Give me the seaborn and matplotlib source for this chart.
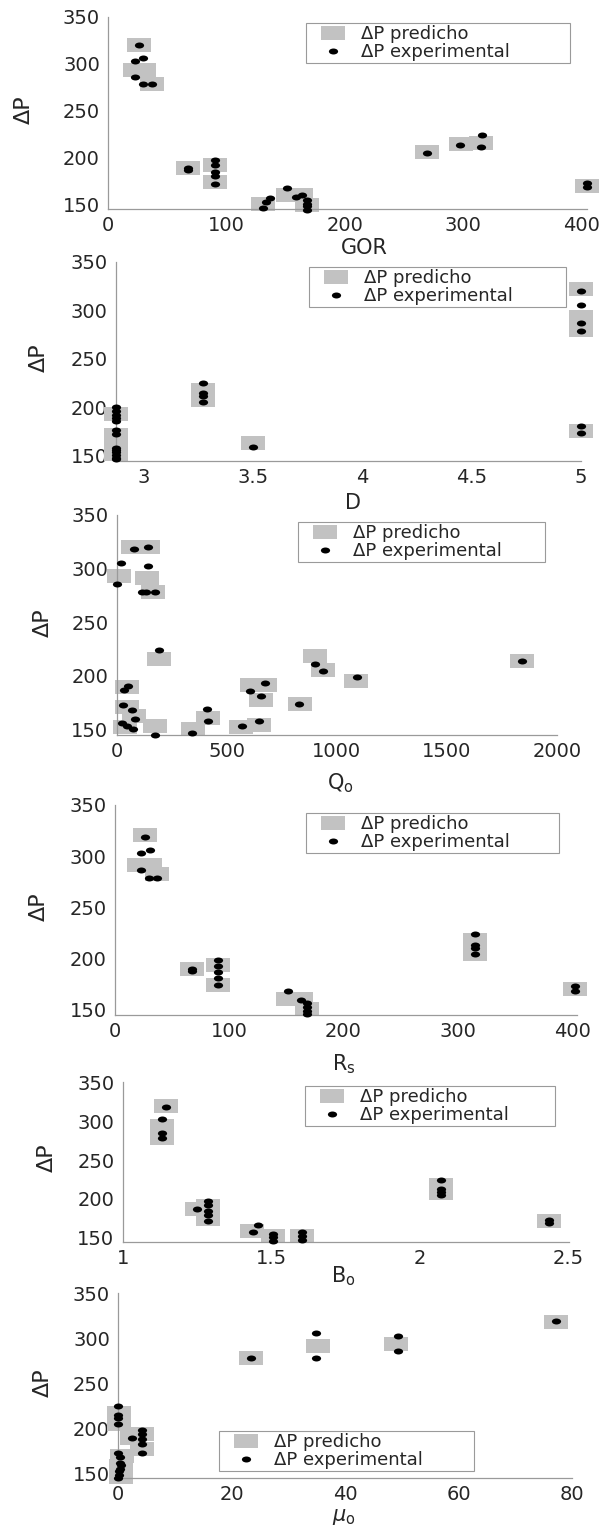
import matplotlib
matplotlib.use("Agg")
import matplotlib.pyplot as plt
from matplotlib.path import Path
from matplotlib.transforms import Affine2D
from matplotlib.ticker import FormatStrFormatter
import seaborn as sns

# ---- data (x variable, delta P) ----
gor_pred_x = [26, 22.5, 30, 37, 67, 90, 90, 131, 152, 163, 168, 269, 298, 315, 405]
gor_pred_y = [320, 293, 293, 278, 189, 192, 174, 151, 160, 160, 150, 206, 214, 216, 170]
gor_exp_x = [26, 22.5, 29.6, 22.5, 29.6, 37, 67, 67, 90, 90, 90, 90, 90, 131, 133, 137,
             151, 158.5, 163.5, 168, 168, 168, 168, 269, 297, 316, 315, 405, 405]
gor_exp_y = [320, 303, 306, 286, 278, 278, 189, 187, 198, 192, 185, 180, 172, 146, 153, 157,
             168, 158, 160, 155, 151, 148, 144.5, 205, 213.5, 224, 211, 172.5, 169]

d_pred_x = [2.873, 2.873, 2.873, 2.873, 3.27, 3.27, 3.5, 5, 5, 5, 5]
d_pred_y = [193, 171, 159, 152, 218, 208, 163, 322, 293, 280, 176]
d_exp_x = [2.873, 2.873, 2.873, 2.873, 2.873, 2.873, 2.873, 2.873, 2.873, 2.873, 2.873, 2.873, 2.873,
           3.27, 3.27, 3.27, 3.27, 3.5, 5, 5, 5, 5, 5, 5]
d_exp_y = [200, 196, 192, 188.5, 185.5, 177, 173, 158.5, 156, 153.5, 150.5, 148, 146.5,
           225, 214.5, 212, 205, 159.5, 320, 305.5, 287, 279, 181, 174]

qo_pred_x = [11, 75, 143, 138, 165, 192, 45, 45, 80, 37.6, 173, 346, 413, 564, 613, 674,
             657, 645, 831, 901, 936, 1087, 1841]
qo_pred_y = [293, 320, 320, 291, 278, 216, 190, 171, 163, 152, 153, 150.5, 161, 152, 192, 192,
             178, 154, 174, 219, 206, 195, 214]
qo_exp_x = [19.5, 3, 78, 143, 143, 116, 131, 173, 192, 34.6, 49.6, 30, 67.7, 82.7, 22.6, 45,
            75, 176, 341, 410.5, 416.5, 568, 604.5, 674, 657, 648, 827, 901, 936, 1092, 1841]
qo_exp_y = [305, 286, 318, 320, 302.6, 278, 278, 278.4, 224, 187.3, 190.4, 173, 168.3, 159.8, 156, 153.7,
            150.6, 145.4, 147, 169, 157.6, 153.7, 185.8, 193, 181, 158, 174, 211, 205, 199, 214]

rs_pred_x = [26, 21, 31, 37, 67.7, 90.4, 90.4, 151, 163, 168, 315, 315, 403]
rs_pred_y = [320.7, 291.4, 291.4, 283, 189.7, 193.7, 174, 161, 161, 151, 218, 205, 170]
rs_exp_x = [26, 22.7, 30.5, 22.7, 29.4, 37, 67.7, 67.7, 90.4, 90.4, 90.4, 90.4, 90.4,
            151, 162.4, 168, 168, 168, 168, 315, 315, 315, 315, 403, 403]
rs_exp_y = [319, 303, 305.6, 286.5, 278.7, 278.7, 189.7, 188, 198.5, 192.7, 187, 181.6, 174.1,
            168.2, 159.4, 156.8, 152.9, 149, 145.5, 223.6, 213.2, 210.6, 205, 173, 168.6]

bo_pred_x = [1.145, 1.131, 1.131, 1.249, 1.288, 1.288, 1.434, 1.507, 1.604, 2.07, 2.07, 2.436]
bo_pred_y = [319.6, 294, 278, 187, 191.3, 173.9, 159.4, 152, 152, 218.5, 207, 171]
bo_exp_x = [1.145, 1.131, 1.131, 1.131, 1.251, 1.288, 1.288, 1.288, 1.288, 1.288, 1.437, 1.455,
            1.507, 1.507, 1.507, 1.604, 1.604, 1.604, 2.07, 2.07, 2.07, 2.07, 2.436, 2.436]
bo_exp_y = [318.7, 303.4, 285, 277.8, 187, 197.7, 191.8, 185, 179.8, 172.2, 157.2, 167,
            155, 150.9, 145.7, 157.3, 152.1, 146.6, 224.4, 212.8, 209.4, 205.1, 173.5, 169.2]

mu_pred_x = [0.1, 0.1, 2.4, 4.1, 4.1, 0.6, 0.5, 0.5, 23.3, 35.2, 49, 77.2]
mu_pred_y = [217.7, 204.9, 189.8, 194, 177.4, 170, 158.6, 146.2, 277.8, 291.5, 293.7, 318.5]
mu_exp_x = [0, 0, 0, 0, 2.35, 4.1, 4.1, 4.1, 4.1, 4.1, 0, 0.3, 0.3, 0.5, 0.3, 0.2, 0.2, 0,
            77.2, 34.8, 34.8, 49.3, 49.3, 23.3]
mu_exp_y = [225.2, 215, 211.3, 204.9, 189.5, 198.9, 193.6, 188, 183, 173, 172.6, 168.8, 162.4,
            159.8, 155.6, 153, 148.5, 145.5, 319.6, 305.6, 277.8, 303, 286, 278.5]

xlabels = ["GOR", "D", r"Q$_\mathregular{o}$", r"R$_\mathregular{s}$", r"B$_\mathregular{o}$",
           r"$\mathit{\mu}_\mathregular{o}$"]
xlims = [(0, 405), (2.873, 5), (0, 2000), (0, 404), (1, 2.5), (0, 80)]
xticks = [[0, 100, 200, 300, 400], [3, 3.5, 4, 4.5, 5], [0, 500, 1000, 1500, 2000],
          [0, 100, 200, 300, 400], [1, 1.5, 2, 2.5], [0, 20, 40, 60, 80]]
yticks = [150, 200, 250, 300, 350]

data = [(gor_pred_x, gor_pred_y, gor_exp_x, gor_exp_y),
        (d_pred_x, d_pred_y, d_exp_x, d_exp_y),
        (qo_pred_x, qo_pred_y, qo_exp_x, qo_exp_y),
        (rs_pred_x, rs_pred_y, rs_exp_x, rs_exp_y),
        (bo_pred_x, bo_pred_y, bo_exp_x, bo_exp_y),
        (mu_pred_x, mu_pred_y, mu_exp_x, mu_exp_y)]

# ---- layout (pixels in the 605x1529 image) ----
W, H = 605, 1529
axes_px = [(108.3, 16.7, 587.4, 209.3), (116, 261.7, 581, 460.7), (116.7, 515, 557, 735),
           (115, 805, 576.6, 1015), (122.7, 1082.3, 568.5, 1241.7), (118.3, 1293.3, 572.3, 1478.3)]
legend_px = [(306, 22.7, 264), (309, 266.7, 257), (298, 521.7, 247),
             (306, 813, 253), (305, 1086, 250), (219, 1431, 255)]
xlabel_pos = [(0.535, -0.15), (0.51, -0.16), (0.507, -0.165), (0.496, -0.178), (0.496, -0.14), (0.497, -0.155)]
ylabel_pos = [(-0.155, 0.516), (-0.144, 0.516), (-0.145, 0.51), (-0.143, 0.514), (-0.147, 0.53), (-0.144, 0.515)]

sns.set_style("white")
plt.rcParams["font.family"] = ["DejaVu Sans"]
plt.rcParams["mathtext.default"] = "regular"

# squashed markers like the source image (wider than tall)
square = Path([(-1, -0.58), (1, -0.58), (1, 0.58), (-1, 0.58), (-1, -0.58)],
              [Path.MOVETO, Path.LINETO, Path.LINETO, Path.LINETO, Path.CLOSEPOLY])
dot = Affine2D().scale(1, 0.65).transform_path(Path.unit_circle())

axis_col = "#9a9a9a"
fig = plt.figure(figsize=(W / 100, H / 100), dpi=100)

for i, (px, py, ex, ey) in enumerate(data):
    l, t, r, b = axes_px[i]
    ax = fig.add_axes([l / W, (H - b) / H, (r - l) / W, (b - t) / H])
    sns.scatterplot(x=px, y=py, marker=square, s=300, color="#c2c2c2", linewidth=0,
                    ax=ax, label="ΔP predicho", clip_on=False, zorder=2)
    sns.scatterplot(x=ex, y=ey, marker=dot, s=44, color="black", linewidth=0,
                    ax=ax, label="ΔP experimental", clip_on=False, zorder=3)
    ax.set_xlim(*xlims[i])
    ax.set_ylim(145, 350)
    ax.set_xticks(xticks[i])
    ax.set_yticks(yticks)
    ax.xaxis.set_major_formatter(FormatStrFormatter("%g"))
    ax.tick_params(direction="in", length=3, width=0.8, color=axis_col,
                   labelsize=14, labelcolor="#262626")
    ax.tick_params(axis="x", pad=5)
    ax.tick_params(axis="y", pad=6)
    for side in ["top", "right"]:
        ax.spines[side].set_visible(False)
    for side in ["left", "bottom"]:
        ax.spines[side].set_color(axis_col)
        ax.spines[side].set_linewidth(0.9)
    ax.set_xlabel(xlabels[i], fontsize=15, color="#262626")
    ax.set_ylabel("ΔP", fontsize=16, color="#262626")
    ax.xaxis.set_label_coords(*xlabel_pos[i])
    ax.yaxis.set_label_coords(*ylabel_pos[i])

    lx, ly, lw = legend_px[i]
    leg = ax.legend(loc="upper left", bbox_to_anchor=(lx / W, 1 - (ly + 40) / H, lw / W, 40 / H),
                    bbox_transform=fig.transFigure, mode="expand", borderaxespad=0,
                    fontsize=13, frameon=True, fancybox=False, framealpha=1,
                    borderpad=0.12, labelspacing=0.0, handlelength=2.7, handletextpad=0.25,
                    scatteryoffsets=[0.5])
    leg.get_frame().set_edgecolor(axis_col)
    leg.get_frame().set_linewidth(0.8)
    for txt in leg.get_texts():
        txt.set_color("#262626")

fig.savefig("out.png", dpi=100)
